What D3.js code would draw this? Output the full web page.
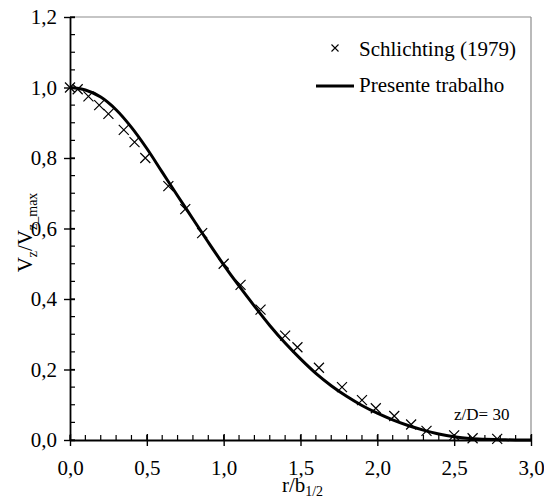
<!DOCTYPE html>
<html>
<head>
<meta charset="utf-8">
<script src="https://cdn.jsdelivr.net/npm/d3@7"></script>
<style>
  body { margin: 0; background: #fff; }
  svg text { font-family: "Liberation Serif", "Times New Roman", Times, "DejaVu Serif", serif; fill: #000; }
</style>
</head>
<body>
<div id="chartDiv"></div>
<script>

// Schlichting (1979) experimental points
var schlichtingR = [0.00, 0.05, 0.12, 0.19, 0.25, 0.35, 0.42, 0.49, 0.64, 0.75, 0.86, 1.00, 1.11, 1.24,
                    1.40, 1.48, 1.62, 1.77, 1.90, 1.99, 2.11, 2.22, 2.32, 2.50, 2.62, 2.78];
var schlichtingV = [1.000, 0.995, 0.975, 0.950, 0.925, 0.880, 0.845, 0.800, 0.720, 0.655, 0.587, 0.500, 0.440, 0.370,
                    0.296, 0.263, 0.205, 0.150, 0.113, 0.090, 0.068, 0.044, 0.026, 0.013, 0.005, 0.003];

// Presente trabalho (solid line)
var presenteR = [0.0, 0.1, 0.2, 0.3, 0.4, 0.5, 0.6, 0.7, 0.8, 0.9, 1.0, 1.1, 1.2, 1.3, 1.4, 1.5,
                 1.6, 1.7, 1.8, 1.9, 2.0, 2.1, 2.2, 2.3, 2.4, 2.5, 2.6, 2.7, 2.8, 2.9, 3.0];
var presenteV = [1.000, 0.993, 0.973, 0.937, 0.887, 0.827, 0.760, 0.693, 0.627, 0.561, 0.497, 0.437, 0.380, 0.325, 0.275, 0.230,
                 0.189, 0.154, 0.124, 0.098, 0.076, 0.057, 0.041, 0.028, 0.017, 0.009, 0.004, 0.002, 0.001, 0.000, 0.000];

var xTicks = [0, 0.5, 1.0, 1.5, 2.0, 2.5, 3.0];
var yTicks = [0, 0.2, 0.4, 0.6, 0.8, 1.0, 1.2];

var serif = "'Liberation Serif', 'Times New Roman', Times, 'DejaVu Serif', serif";

var margin = {top: 17, right: 13, bottom: 59, left: 70},
    width = 544 - margin.left - margin.right,
    height = 499 - margin.top - margin.bottom;

var svg = d3.select("#chartDiv")
  .append("svg")
    .attr("width", width + margin.left + margin.right)
    .attr("height", height + margin.top + margin.bottom)
  .append("g")
    .attr("transform", "translate(" + margin.left + "," + margin.top + ")");

var x = d3.scaleLinear().domain([0, 3]).range([0, width]);
var y = d3.scaleLinear().domain([0, 1.2]).range([height, 0]);
var fmt = function(d) { return d3.format(".1f")(d).replace(".", ","); };

// gray frame on top and right
svg.append("line").attr("x1", 0).attr("x2", width).attr("y1", 0).attr("y2", 0)
  .attr("stroke", "#8c8c8c").attr("stroke-width", 1.2);
svg.append("line").attr("x1", width).attr("x2", width).attr("y1", 0).attr("y2", height)
  .attr("stroke", "#8c8c8c").attr("stroke-width", 1.2);

// minor ticks (inside)
var yMinor = d3.range(0, 1.2001, 0.05);
svg.append("g").selectAll("line")
  .data(yMinor).enter().append("line")
    .attr("x1", 0).attr("x2", 5)
    .attr("y1", function(d) { return y(d); }).attr("y2", function(d) { return y(d); })
    .attr("stroke", "#000").attr("stroke-width", 1.2);
var xMinor = d3.range(0, 3.0001, 0.1);
svg.append("g").selectAll("line")
  .data(xMinor).enter().append("line")
    .attr("x1", function(d) { return x(d); }).attr("x2", function(d) { return x(d); })
    .attr("y1", height).attr("y2", height - 5)
    .attr("stroke", "#000").attr("stroke-width", 1.2);

// Y axis
var yAxis = svg.append("g")
  .call(d3.axisLeft(y).tickValues(yTicks).tickFormat(fmt).tickSizeInner(6).tickSizeOuter(0).tickPadding(7));
yAxis.select(".domain").attr("stroke-width", 1.8);
yAxis.selectAll(".tick line").attr("x2", -6).attr("x1", 5).attr("stroke-width", 1.4);
yAxis.selectAll("text").style("font-size", "21px").style("font-family", serif);

// X axis
var xAxis = svg.append("g")
  .attr("transform", "translate(0," + height + ")")
  .call(d3.axisBottom(x).tickValues(xTicks).tickFormat(fmt).tickSizeInner(6).tickSizeOuter(0).tickPadding(14));
xAxis.select(".domain").attr("stroke-width", 1.8);
xAxis.selectAll(".tick line").attr("y1", -6).attr("y2", 6).attr("stroke-width", 1.4);
xAxis.selectAll("text").style("font-size", "21px").style("font-family", serif);

// axis titles
var xt = svg.append("text")
  .attr("text-anchor", "middle")
  .attr("x", width / 2 + 2)
  .attr("y", height + 52)
  .style("font-family", serif)
  .style("font-size", "21px");
xt.append("tspan").text("r/b");
xt.append("tspan").attr("dy", 4).style("font-size", "14px").text("1/2");

var yt = svg.append("text")
  .attr("text-anchor", "middle")
  .attr("transform", "translate(" + (-38) + "," + (height / 2 + 4) + ") rotate(-90)")
  .style("font-family", serif)
  .style("font-size", "21px");
yt.append("tspan").text("V");
yt.append("tspan").attr("dy", 5).style("font-size", "14px").text("z");
yt.append("tspan").attr("dy", -5).text("/V");
yt.append("tspan").attr("dy", 5).style("font-size", "14px").text("z_max");

// line
var lineData = presenteR.map(function(r, i) { return {r: r, v: presenteV[i]}; });
svg.append("path")
  .datum(lineData)
  .attr("fill", "none")
  .attr("stroke", "#000")
  .attr("stroke-width", 3)
  .attr("stroke-linejoin", "round")
  .attr("d", d3.line()
    .x(function(d) { return x(d.r); })
    .y(function(d) { return y(d.v); })
    .curve(d3.curveCatmullRom));

// x markers
var pts = schlichtingR.map(function(r, i) { return {r: r, v: schlichtingV[i]}; });
var cross = function(s) { return "M" + (-s) + "," + (-s) + "L" + s + "," + s + "M" + (-s) + "," + s + "L" + s + "," + (-s); };
svg.append("g")
  .selectAll("path")
  .data(pts)
  .enter()
  .append("path")
    .attr("transform", function(d) { return "translate(" + x(d.r) + "," + y(d.v) + ")"; })
    .attr("d", cross(5))
    .attr("stroke", "#000")
    .attr("stroke-width", 1.2)
    .attr("fill", "none");

// legend
var legend = svg.append("g");
legend.append("path")
  .attr("transform", "translate(" + (265) + "," + (31) + ")")
  .attr("d", cross(3.5))
  .attr("stroke", "#000").attr("stroke-width", 1.1);
legend.append("text")
  .attr("x", 289).attr("y", 39)
  .style("font-family", serif)
  .style("font-size", "21px")
  .text("Schlichting (1979)");
legend.append("line")
  .attr("x1", 246).attr("x2", 284).attr("y1", 69).attr("y2", 69)
  .attr("stroke", "#000").attr("stroke-width", 3);
legend.append("text")
  .attr("x", 289).attr("y", 75)
  .style("font-family", serif)
  .style("font-size", "21px")
  .text("Presente trabalho");

// annotation
svg.append("text")
  .attr("x", 384).attr("y", 403)
  .style("font-family", serif)
  .style("font-size", "17px")
  .text("z/D= 30");

</script>
</body>
</html>
